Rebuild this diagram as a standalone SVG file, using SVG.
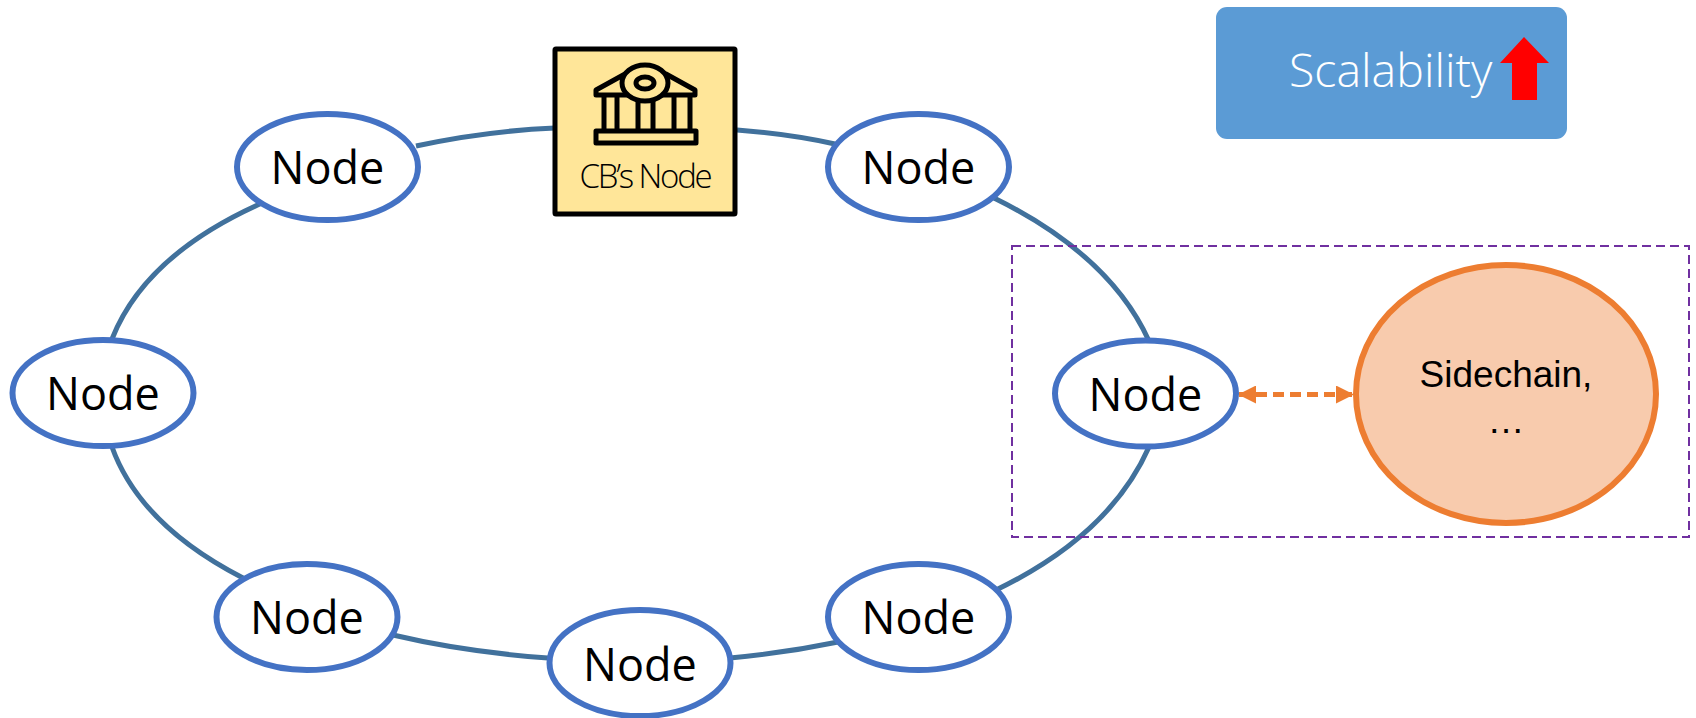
<svg xmlns="http://www.w3.org/2000/svg" width="1696" height="718" viewBox="0 0 1696 718">
<style>
.ring{fill:none;stroke:#41719c;stroke-width:5}
.node{fill:#fff;stroke:#4472c4;stroke-width:6}
.lbl{font-family:"Open Sans","Noto Sans",sans-serif;font-size:45px;fill:#000;text-anchor:middle}
.ic{fill:#ffe699;stroke:#000;stroke-width:5;stroke-linejoin:round}
.sc{font-family:"Liberation Sans",Arial,sans-serif;font-size:37px;text-anchor:middle;fill:#000}
</style>
<defs>
<marker id="oa" viewBox="0 0 18 18" refX="17" refY="9" markerWidth="18" markerHeight="18" markerUnits="userSpaceOnUse" orient="auto-start-reverse"><path d="M0 0L18 9L0 18Z" fill="#ed7d31"/></marker>
</defs>
<g id="connectors">
<path class="ring" d="M416 146Q485 131 555 128"/>
<path class="ring" d="M737 130Q790 134 835 144"/>
<path class="ring" d="M994 198Q1110 255 1149 341"/>
<path class="ring" d="M1149 447Q1110 535 996 590"/>
<path class="ring" d="M838 642Q785 653 730 658"/>
<path class="ring" d="M548 658Q465 652 393 635"/>
<path class="ring" d="M243 578Q140 525 112 447"/>
<path class="ring" d="M112 339Q145 255 262 203"/>
<path d="M1239 394.500H1353" fill="none" stroke="#ed7d31" stroke-width="5" stroke-dasharray="11 6" marker-start="url(#oa)" marker-end="url(#oa)"/>
</g>
<rect id="sidechain-box" x="1012" y="246" width="677" height="291" fill="none" stroke="#7030a0" stroke-width="2" stroke-dasharray="9 5"/>
<g id="scalability">
<rect x="1216" y="7" width="351" height="132" rx="11" fill="#5b9bd5"/>
<text x="1289" y="87" font-family="'Open Sans','Noto Sans',sans-serif" font-weight="300" font-size="46.500" fill="#fff">Scalability</text>
<path d="M1524 37L1549 63H1537V100H1512V63H1500Z" fill="#f00"/>
</g>
<g id="cb-node">
<rect x="555" y="49" width="180" height="165" rx="1" fill="#ffe699" stroke="#000" stroke-width="5"/>
<path class="ic" d="M596 95V90L625 74H666L695 90V95Z"/>
<path class="ic" fill="none" d="M604 95V131M617 95V131M638 95V131M653 95V131M674 95V131M690 95V131"/>
<ellipse class="ic" cx="645" cy="83" rx="23" ry="18"/>
<ellipse class="ic" cx="645" cy="83" rx="9" ry="6"/>
<rect class="ic" x="596" y="131" width="100" height="12"/>
<text x="645" y="188" font-family="'Open Sans','Noto Sans',sans-serif" font-weight="300" font-size="33" letter-spacing="-2.200" text-anchor="middle">CB’s Node</text>
</g>
<g id="node-tl"><ellipse class="node" cx="327.500" cy="167" rx="90.500" ry="53"/><text class="lbl" x="327.500" y="183.500">Node</text></g>
<g id="node-tr"><ellipse class="node" cx="918.500" cy="167" rx="90.500" ry="53"/><text class="lbl" x="918.500" y="183.500">Node</text></g>
<g id="node-l"><ellipse class="node" cx="103" cy="393" rx="90.500" ry="53"/><text class="lbl" x="103" y="409.500">Node</text></g>
<g id="node-r"><ellipse class="node" cx="1145.500" cy="393.500" rx="90.500" ry="53"/><text class="lbl" x="1145.500" y="411">Node</text></g>
<g id="node-bl"><ellipse class="node" cx="307" cy="617" rx="90.500" ry="53"/><text class="lbl" x="307" y="633.500">Node</text></g>
<g id="node-b"><ellipse class="node" cx="640" cy="663" rx="90.500" ry="53"/><text class="lbl" x="640" y="680.500">Node</text></g>
<g id="node-br"><ellipse class="node" cx="918.500" cy="617" rx="90.500" ry="53"/><text class="lbl" x="918.500" y="633.500">Node</text></g>
<g id="sidechain"><ellipse cx="1506" cy="394" rx="150" ry="129" fill="#f8cbad" stroke="#ed7d31" stroke-width="6"/>
<text class="sc" x="1506" y="387">Sidechain,</text>
<text class="sc" x="1506" y="433">…</text></g>
</svg>
